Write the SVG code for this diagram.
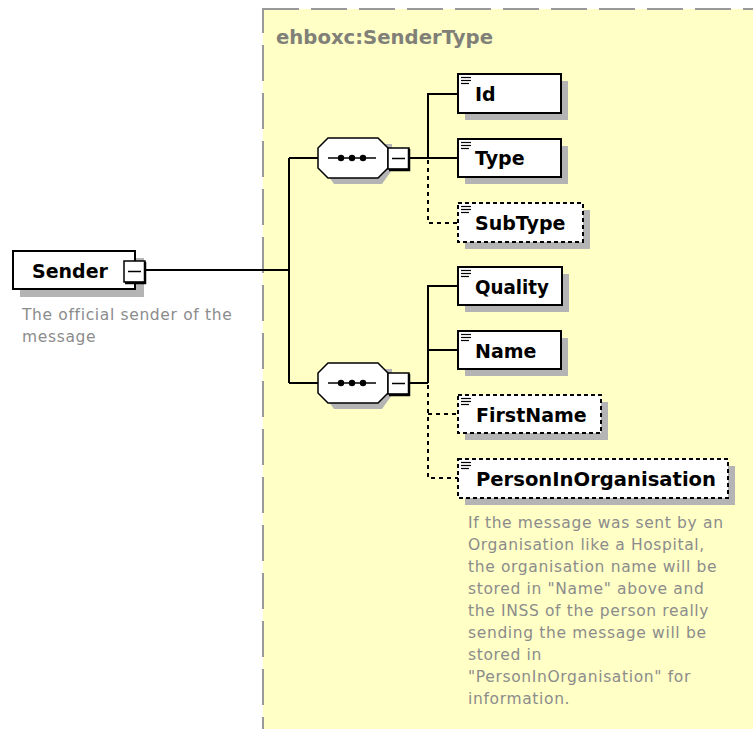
<svg xmlns="http://www.w3.org/2000/svg" width="753" height="729" viewBox="0 0 753 729">
<defs>
<style>
.el{fill:#fff;stroke:#000;stroke-width:2}
.opt{fill:#fff;stroke:#000;stroke-width:2;stroke-dasharray:4 3}
.sh{fill:#b4b4b4}
.lbl{font-family:"DejaVu Sans",Verdana,sans-serif;font-weight:bold;font-size:19px;fill:#000}
.cap{font-family:"DejaVu Sans",Verdana,sans-serif;font-size:15.5px;letter-spacing:0.65px;fill:#8c8c8c}
.ln{stroke:#000;stroke-width:2;fill:none}
.dln{stroke:#000;stroke-width:2;fill:none;stroke-dasharray:4 4}
.ic{stroke:#000;stroke-width:1.2}
</style>
<g id="icon"><line class="ic" x1="0" y1="0.5" x2="10" y2="0.5"/><line class="ic" x1="0" y1="3.5" x2="10" y2="3.5"/><line class="ic" x1="0" y1="6.5" x2="8" y2="6.5"/></g>
<g id="seq">
<polygon points="6,6 74,6 74,32 64,46 16,46 6,32" class="sh"/>
<polygon points="10,0 60,0 70,10 70,30 60,40 10,40 0,30 0,10" fill="#fff" stroke="#000" stroke-width="1.5"/>
<line x1="10" y1="20" x2="58" y2="20" stroke="#000" stroke-width="1.5"/>
<circle cx="23" cy="20" r="3.2"/><circle cx="34" cy="20" r="3.2"/><circle cx="45" cy="20" r="3.2"/>
</g>
<g id="minus">
<rect x="0" y="0" width="21" height="21" fill="#fff" stroke="#000" stroke-width="1.5"/>
<path d="M21,1 V22 H1" fill="none" stroke="#000" stroke-width="2.5"/>
<line x1="4" y1="10.5" x2="17" y2="10.5" stroke="#000" stroke-width="1.5"/>
</g>
</defs>
<rect width="753" height="729" fill="#fff"/>
<g id="type-box">
<rect x="263" y="9" width="520" height="740" fill="#ffffc6" stroke="#999" stroke-width="2" stroke-dasharray="36 12"/>
<text x="276" y="44" font-family="DejaVu Sans,Verdana,sans-serif" font-weight="bold" font-size="19" fill="#808078" textLength="217" lengthAdjust="spacingAndGlyphs">ehboxc:SenderType</text>
</g>
<g id="connectors">
<line class="ln" x1="146" y1="270" x2="289" y2="270"/>
<line class="ln" x1="289" y1="158" x2="289" y2="383"/>
<line class="ln" x1="289" y1="158" x2="320" y2="158"/>
<line class="ln" x1="289" y1="383" x2="320" y2="383"/>
<line class="ln" x1="410" y1="158" x2="458" y2="158"/>
<polyline class="ln" points="428,158 428,94 458,94"/>
<polyline class="dln" points="428,160 428,223 458,223"/>
<line class="ln" x1="410" y1="383" x2="428" y2="383"/>
<polyline class="ln" points="428,383 428,286 458,286"/>
<line class="ln" x1="428" y1="350" x2="458" y2="350"/>
<polyline class="dln" points="428,385 428,478 458,478"/>
<line class="dln" x1="428" y1="414" x2="458" y2="414"/>
</g>
<g id="sender">
<rect x="20" y="258" width="124" height="39" class="sh"/>
<rect x="13" y="251" width="122" height="38" class="el"/>
<text x="32" y="278" class="lbl">Sender</text>
<use href="#minus" x="124" y="261"/>
<text x="22" y="320" class="cap" letter-spacing="0.3">The official sender of the</text>
<text x="22" y="342" class="cap" letter-spacing="0.3">message</text>
</g>
<g id="seq1">
<use href="#seq" x="318" y="138"/>
<use href="#minus" x="388" y="148"/>
</g>
<g id="seq2">
<use href="#seq" x="318" y="363"/>
<use href="#minus" x="388" y="373"/>
</g>
<g id="Id">
<rect x="465" y="81" width="103" height="39" class="sh"/>
<rect x="458" y="74" width="103" height="39" class="el"/>
<use href="#icon" x="461" y="77"/>
<text x="475" y="101" class="lbl">Id</text>
</g>
<g id="Type">
<rect x="465" y="146" width="103" height="38" class="sh"/>
<rect x="458" y="139" width="103" height="38" class="el"/>
<use href="#icon" x="461" y="142"/>
<text x="475" y="165" class="lbl">Type</text>
</g>
<g id="SubType">
<rect x="465" y="210" width="125" height="39" class="sh"/>
<rect x="458" y="203" width="125" height="39" class="opt"/>
<use href="#icon" x="461" y="206"/>
<text x="475" y="230" class="lbl">SubType</text>
</g>
<g id="Quality">
<rect x="465" y="274" width="104" height="38" class="sh"/>
<rect x="458" y="267" width="104" height="38" class="el"/>
<use href="#icon" x="461" y="270"/>
<text x="475" y="294" class="lbl" textLength="74" lengthAdjust="spacingAndGlyphs">Quality</text>
</g>
<g id="Name">
<rect x="465" y="338" width="103" height="38" class="sh"/>
<rect x="458" y="331" width="103" height="38" class="el"/>
<use href="#icon" x="461" y="334"/>
<text x="475" y="358" class="lbl">Name</text>
</g>
<g id="FirstName">
<rect x="465" y="402" width="143" height="38" class="sh"/>
<rect x="458" y="395" width="143" height="38" class="opt"/>
<use href="#icon" x="461" y="398"/>
<text x="476" y="422" class="lbl">FirstName</text>
</g>
<g id="PersonInOrganisation">
<rect x="465" y="466" width="270" height="39" class="sh"/>
<rect x="458" y="459" width="270" height="39" class="opt"/>
<use href="#icon" x="461" y="462"/>
<text x="476" y="486" class="lbl" textLength="240" lengthAdjust="spacingAndGlyphs">PersonInOrganisation</text>
<text class="cap">
<tspan x="468" y="528">If the message was sent by an</tspan>
<tspan x="468" y="550">Organisation like a Hospital,</tspan>
<tspan x="468" y="572">the organisation name will be</tspan>
<tspan x="468" y="594">stored in "Name" above and</tspan>
<tspan x="468" y="616">the INSS of the person really</tspan>
<tspan x="468" y="638">sending the message will be</tspan>
<tspan x="468" y="660">stored in</tspan>
<tspan x="468" y="682">"PersonInOrganisation" for</tspan>
<tspan x="468" y="704">information.</tspan>
</text>
</g>
</svg>
